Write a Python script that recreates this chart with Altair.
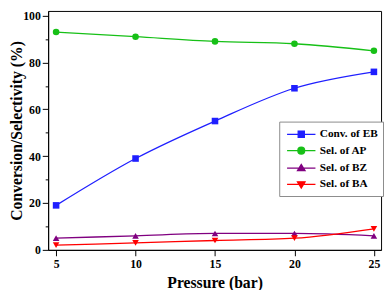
import altair as alt
import pandas as pd

pressure = [5, 10, 15, 20, 25]
series_names = ["Conv. of EB", "Sel. of AP", "Sel. of BZ", "Sel. of BA"]
conv_eb = [19, 39, 55, 69, 76]
sel_ap = [93, 91, 89, 88, 85]
sel_bz = [5, 6, 7, 7, 6]
sel_ba = [2, 3, 4, 5, 9]
colors = ["#1f1fff", "#17c017", "#800080", "#ff0000"]
marker_shapes = ["square", "circle", "triangle-up", "triangle-down"]
legend_paths = [
    "M-2.07,0H2.07M-0.45,-0.45H0.45V0.45H-0.45Z",
    "M-2.07,0H2.07M0.5,0A0.5,0.5,0,1,1,-0.5,0A0.5,0.5,0,1,1,0.5,0Z",
    "M-2.07,0H2.07M-0.55,0.38L0.55,0.38L0,-0.52Z",
    "M-2.07,0H2.07M-0.55,-0.38L0.55,-0.38L0,0.52Z",
]

values = [conv_eb, sel_ap, sel_bz, sel_ba]
rows = []
for name, vals in zip(series_names, values):
    for p, v in zip(pressure, vals):
        rows.append({"pressure": p, "series": name, "value": v})
df = pd.DataFrame(rows)

FONT = "Liberation Serif"

x_enc = alt.X(
    "pressure:Q",
    scale=alt.Scale(domain=[4.5, 25.45], nice=False, zero=False),
    axis=alt.Axis(
        values=pressure, title="Pressure (bar)", grid=False, tickSize=6,
        labelPadding=3, labelFontSize=12, labelFont=FONT, labelFontWeight="bold",
        titleFont=FONT, titleFontSize=16, titleFontWeight="bold", titlePadding=5,
        domainColor="black", tickColor="black", labelColor="black", titleColor="black",
    ),
)
y_enc = alt.Y(
    "value:Q",
    scale=alt.Scale(domain=[0, 102], nice=False),
    axis=alt.Axis(
        values=list(range(0, 101, 10)),
        labelExpr="datum.value % 20 === 0 ? datum.label : ''",
        tickSize={"condition": {"test": "datum.value % 20 === 0", "value": 6}, "value": 3},
        title="Conversion/Selectivity (%)", grid=False,
        labelPadding=2, labelFontSize=12, labelFont=FONT, labelFontWeight="bold",
        titleFont=FONT, titleFontSize=16, titleFontWeight="bold",
        titleX=-32, titleY=122, titleAngle=270, titleAlign="center", titleBaseline="middle",
        domainColor="black", tickColor="black", labelColor="black", titleColor="black",
    ),
)

color_scale = alt.Scale(domain=series_names, range=colors)

base = alt.Chart(df).encode(x=x_enc, y=y_enc)

layers = []
for name, col, shp in zip(series_names, colors, marker_shapes):
    sub = base.transform_filter(alt.datum.series == name)
    layers.append(sub.mark_line(strokeWidth=1.3, interpolate="monotone", color=col))
    layers.append(sub.mark_point(shape=shp, filled=True, color=col, size=45, opacity=1))

leg = dict(
    title=None, orient="none", legendX=236, legendY=113,
    symbolSize=196, symbolStrokeWidth=1.3, symbolOffset=9.5, labelOffset=11,
    labelFont=FONT, labelFontSize=11.5, labelFontWeight="bold", labelColor="black",
    padding=5, rowPadding=2.7, strokeColor="#8a8a8a", fillColor="white",
)

legend_layer = base.mark_point(strokeWidth=1.3, opacity=1, size=0).encode(
    shape=alt.Shape("series:N", scale=alt.Scale(domain=series_names, range=legend_paths),
                    legend=alt.Legend(**leg)),
    fill=alt.Fill("series:N", scale=color_scale, legend=alt.Legend(**leg)),
    stroke=alt.Stroke("series:N", scale=color_scale, legend=alt.Legend(**leg)),
)

chart = alt.layer(*layers, legend_layer).properties(
    width=340, height=244,
    autosize=alt.AutoSizeParams(type="none"),
    padding={"left": 41, "top": 0, "right": 3, "bottom": 40},
    background="white",
).configure_view(stroke="black", strokeWidth=1)

chart.save("out.html", embed_options={"renderer": "svg", "actions": False})
